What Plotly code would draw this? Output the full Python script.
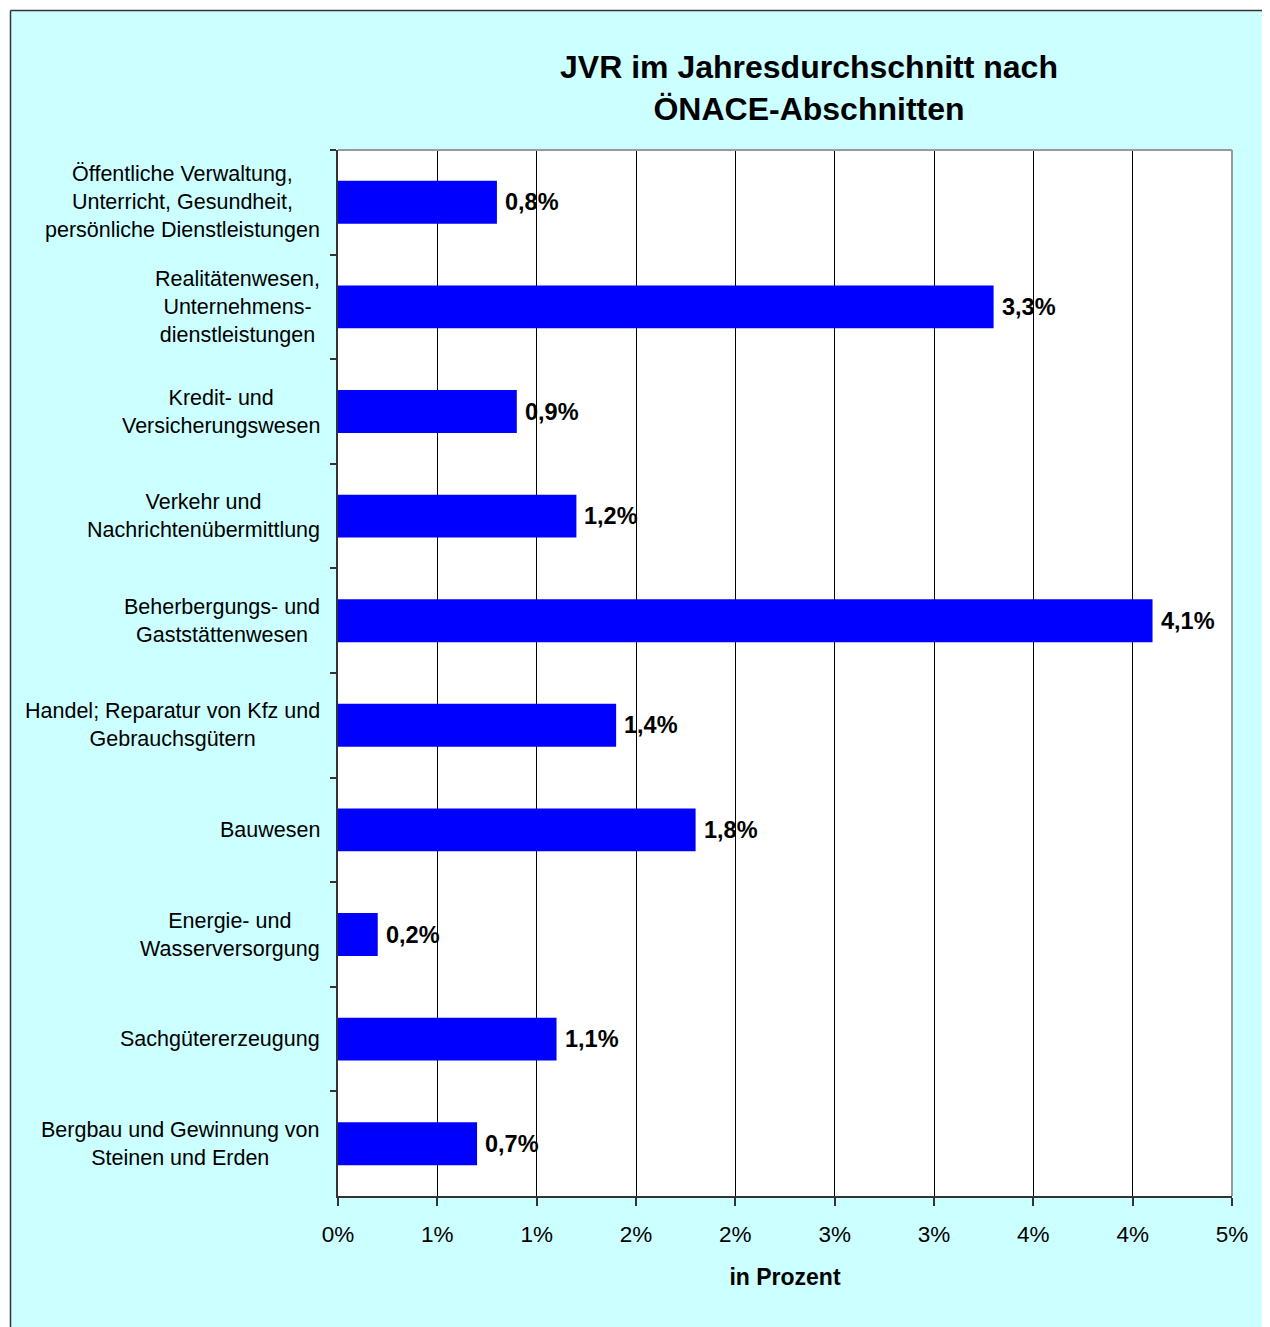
import plotly.graph_objects as go

# ---------------- data ----------------
categories = [
    "Öffentliche Verwaltung,<br>Unterricht, Gesundheit,<br>persönliche Dienstleistungen",
    "Realitätenwesen,<br>Unternehmens-<br>dienstleistungen",
    "Kredit- und<br>Versicherungswesen",
    "Verkehr und<br>Nachrichtenübermittlung",
    "Beherbergungs- und<br>Gaststättenwesen",
    "Handel; Reparatur von Kfz und<br>Gebrauchsgütern",
    "Bauwesen",
    "Energie- und<br>Wasserversorgung",
    "Sachgütererzeugung",
    "Bergbau und Gewinnung von<br>Steinen und Erden",
]
values = [0.8, 3.3, 0.9, 1.2, 4.1, 1.4, 1.8, 0.2, 1.1, 0.7]
tick_values = [0, 0.5, 1.0, 1.5, 2.0, 2.5, 3.0, 3.5, 4.0, 4.5]
tick_labels = ["0%", "1%", "1%", "2%", "2%", "3%", "3%", "4%", "4%", "5%"]
title_text = "JVR im Jahresdurchschnitt nach<br>ÖNACE-Abschnitten"
x_title = "in Prozent"

value_labels = [f"{v:.1f}".replace(".", ",") + "%" for v in values]

# ---------------- layout geometry ----------------
OFF = 8  # page body margin
W, H = 1270 - OFF, 1327 - OFF
L, T = 338 - OFF, 150 - OFF
R = W - (1232 - OFF)
B = H - (1196 - OFF)
PW, PH = W - L - R, H - T - B


def px_x(p):  # screenshot px -> paper x
    return (p - OFF - L) / PW


def px_y(p):  # screenshot px -> paper y
    return 1 - (p - OFF - T) / PH


FONT = "Liberation Sans, Arial, sans-serif"
CYAN = "#CCFFFF"

fig = go.Figure()
fig.add_trace(
    go.Bar(
        x=values,
        y=categories,
        orientation="h",
        marker=dict(color="#0000FF", line=dict(width=0)),
        hoverinfo="skip",
        showlegend=False,
    )
)

annotations = []
# category labels (centered multi-line like Excel)
for c in categories:
    annotations.append(
        dict(
            x=px_x(322), xref="paper", y=c, yref="y",
            text=c, showarrow=False, xanchor="right", yanchor="middle",
            align="center", font=dict(family=FONT, size=21.5, color="black"),
        )
    )
# value labels
for c, v, t in zip(categories, values, value_labels):
    annotations.append(
        dict(
            x=v, xref="x", y=c, yref="y", text=f"<b>{t}</b>",
            showarrow=False, xanchor="left", yanchor="middle", xshift=6,
            font=dict(family=FONT, size=23.5, color="black"),
        )
    )

shapes = [
    # white outside margin (top/left)
    dict(type="rect", xref="paper", yref="paper", x0=px_x(0), x1=px_x(10.5),
         y0=px_y(1340), y1=px_y(0), fillcolor="white", line=dict(width=0), layer="below"),
    dict(type="rect", xref="paper", yref="paper", x0=px_x(0), x1=px_x(1280),
         y0=px_y(10.5), y1=px_y(0), fillcolor="white", line=dict(width=0), layer="below"),
    # outer border
    dict(type="line", xref="paper", yref="paper", x0=px_x(10.5), x1=px_x(1280),
         y0=px_y(10.5), y1=px_y(10.5), line=dict(color="#333333", width=1.5)),
    dict(type="line", xref="paper", yref="paper", x0=px_x(10.5), x1=px_x(10.5),
         y0=px_y(10.5), y1=px_y(1340), line=dict(color="#333333", width=1.5)),
    # plot area top/right border (grey)
    dict(type="line", xref="paper", yref="paper", x0=0, x1=1, y0=1, y1=1,
         line=dict(color="#999999", width=2), layer="above"),
    dict(type="line", xref="paper", yref="paper", x0=1, x1=1, y0=0, y1=1,
         line=dict(color="#999999", width=2), layer="above"),
]

fig.update_layout(
    width=W, height=H, autosize=False,
    margin=dict(l=L, r=R, t=T, b=B, pad=0),
    paper_bgcolor=CYAN, plot_bgcolor="white",
    font=dict(family=FONT, color="black"),
    bargap=0.59,
    title=dict(
        text=f"<b>{title_text}</b>", x=px_x(809), xref="paper", xanchor="center",
        y=1 - 70 / H, yref="container", yanchor="middle",
        font=dict(family=FONT, size=32, color="black"),
    ),
    xaxis=dict(
        range=[0, 4.5], tickmode="array", tickvals=tick_values, ticktext=tick_labels,
        showgrid=True, gridcolor="black", gridwidth=1, zeroline=False,
        showline=True, linecolor="#333333", linewidth=2,
        ticks="outside", ticklen=8, tickcolor="#333333", tickwidth=1.5,
        ticklabelstandoff=9,
        tickfont=dict(family=FONT, size=22.5, color="black"),
        title=dict(text=f"<b>{x_title}</b>", standoff=23,
                   font=dict(family=FONT, size=23, color="black")),
        fixedrange=True,
    ),
    yaxis=dict(
        type="category", categoryorder="array", categoryarray=categories,
        range=[len(categories) - 0.5, -0.5],
        showticklabels=False, showgrid=False, zeroline=False,
        showline=True, linecolor="#333333", linewidth=2,
        ticks="outside", tickson="boundaries", ticklen=6, tickcolor="#333333", tickwidth=1.5,
        fixedrange=True,
    ),
    annotations=annotations,
    shapes=shapes,
)

fig.write_html("out.html")
